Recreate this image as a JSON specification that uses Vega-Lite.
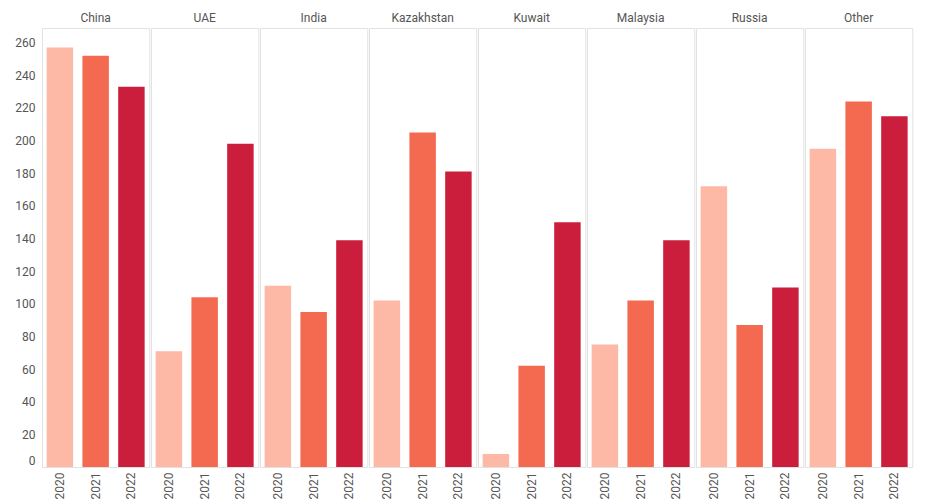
{
  "$schema": "https://vega.github.io/schema/vega-lite/v6.json",
  "padding": {"left": 14, "top": 12, "right": 5, "bottom": 4},
  "background": "white",
  "data": {"values": [
    {"country": "China", "year": "2020", "value": 257},
    {"country": "China", "year": "2021", "value": 252},
    {"country": "China", "year": "2022", "value": 233},
    {"country": "UAE", "year": "2020", "value": 71},
    {"country": "UAE", "year": "2021", "value": 104},
    {"country": "UAE", "year": "2022", "value": 198},
    {"country": "India", "year": "2020", "value": 111},
    {"country": "India", "year": "2021", "value": 95},
    {"country": "India", "year": "2022", "value": 139},
    {"country": "Kazakhstan", "year": "2020", "value": 102},
    {"country": "Kazakhstan", "year": "2021", "value": 205},
    {"country": "Kazakhstan", "year": "2022", "value": 181},
    {"country": "Kuwait", "year": "2020", "value": 8},
    {"country": "Kuwait", "year": "2021", "value": 62},
    {"country": "Kuwait", "year": "2022", "value": 150},
    {"country": "Malaysia", "year": "2020", "value": 75},
    {"country": "Malaysia", "year": "2021", "value": 102},
    {"country": "Malaysia", "year": "2022", "value": 139},
    {"country": "Russia", "year": "2020", "value": 172},
    {"country": "Russia", "year": "2021", "value": 87},
    {"country": "Russia", "year": "2022", "value": 110},
    {"country": "Other", "year": "2020", "value": 195},
    {"country": "Other", "year": "2021", "value": 224},
    {"country": "Other", "year": "2022", "value": 215}
  ]},
  "facet": {
    "column": {
      "field": "country",
      "type": "nominal",
      "sort": ["China", "UAE", "India", "Kazakhstan", "Kuwait", "Malaysia", "Russia", "Other"],
      "title": null,
      "header": {"labelOrient": "top", "labelFontSize": 12, "labelColor": "#555555", "labelFont": "Roboto", "labelPadding": 2}
    }
  },
  "spacing": 0,
  "spec": {
    "width": 107.3,
    "height": 439,
    "mark": {"type": "bar"},
    "encoding": {
      "x": {
        "field": "year",
        "type": "ordinal",
        "scale": {"paddingInner": 0.26, "paddingOuter": 0.13},
        "axis": {"title": null, "labelAngle": 270, "labelAlign": "right", "labelBaseline": "middle", "labelFontSize": 12, "labelColor": "#555555", "labelPadding": 4, "ticks": false, "domain": false}
      },
      "y": {
        "field": "value",
        "type": "quantitative",
        "scale": {"domain": [0, 269], "nice": false},
        "axis": {"title": null, "values": [0, 20, 40, 60, 80, 100, 120, 140, 160, 180, 200, 220, 240, 260], "labelFontSize": 12, "labelColor": "#555555", "labelPadding": 6, "ticks": false, "domain": false, "grid": false, "labelFlush": true}
      },
      "color": {
        "field": "year",
        "type": "nominal",
        "scale": {"domain": ["2020", "2021", "2022"], "range": ["#fdb8a6", "#f36a50", "#cb1e3c"]},
        "legend": null
      }
    }
  },
  "config": {"view": {"stroke": "#e2e2e2"}, "font": "Roboto"}
}
